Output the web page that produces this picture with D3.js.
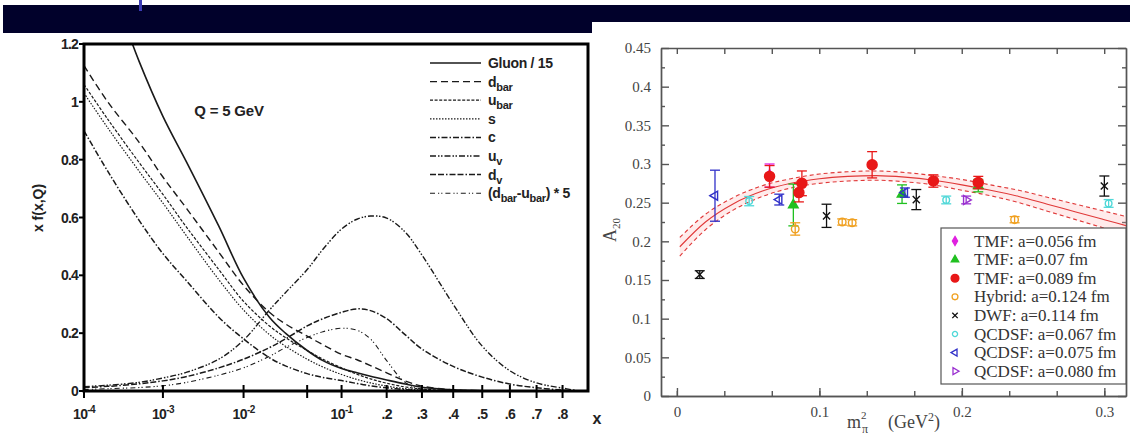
<!DOCTYPE html>
<html>
<head>
<meta charset="utf-8">
<script src="https://cdn.jsdelivr.net/npm/d3@7"></script>
<style>
  body { margin:0; background:#fff; }
  svg { display:block; }
</style>
</head>
<body>
<div id="fig"></div>
<script>
// ---------- left panel data : x f(x,Q) at Q = 5 GeV ----------
var pdfX      = [1e-4, 2e-4, 5e-4, 1e-3, 2e-3, 5e-3, 0.01, 0.02, 0.03, 0.05, 0.07, 0.1, 0.13, 0.16, 0.2, 0.25, 0.3, 0.4, 0.5, 0.6, 0.7, 0.8, 0.85];
var gluon15   = [1.62, 1.43, 1.14, 0.95, 0.79, 0.57, 0.39, 0.255, 0.2, 0.14, 0.105, 0.078, 0.063, 0.051, 0.038, 0.024, 0.013, 0.004, 0.001, 0, 0, 0, 0];
var dbar      = [1.125, 1.0, 0.86, 0.74, 0.63, 0.48, 0.365, 0.272, 0.232, 0.19, 0.16, 0.127, 0.108, 0.088, 0.063, 0.035, 0.017, 0.004, 0.001, 0, 0, 0, 0];
var ubar      = [1.06, 0.94, 0.79, 0.68, 0.565, 0.42, 0.31, 0.225, 0.185, 0.14, 0.11, 0.08, 0.058, 0.042, 0.027, 0.014, 0.007, 0.001, 0, 0, 0, 0, 0];
var sQuark    = [1.03, 0.91, 0.76, 0.65, 0.535, 0.385, 0.28, 0.195, 0.155, 0.11, 0.083, 0.057, 0.04, 0.028, 0.017, 0.008, 0.003, 0, 0, 0, 0, 0, 0];
var cQuark    = [0.9, 0.76, 0.59, 0.475, 0.38, 0.255, 0.18, 0.115, 0.087, 0.06, 0.047, 0.036, 0.026, 0.018, 0.011, 0.005, 0.002, 0, 0, 0, 0, 0, 0];
var uValence  = [0.015, 0.02, 0.03, 0.045, 0.065, 0.11, 0.176, 0.28, 0.34, 0.42, 0.49, 0.56, 0.594, 0.605, 0.598, 0.55, 0.47, 0.3, 0.155, 0.07, 0.028, 0.01, 0.002];
var dValence  = [0.012, 0.016, 0.025, 0.035, 0.05, 0.08, 0.11, 0.15, 0.18, 0.225, 0.25, 0.272, 0.284, 0.278, 0.25, 0.195, 0.145, 0.085, 0.048, 0.024, 0.011, 0.003, 0];
var asym5     = [0.005, 0.008, 0.012, 0.018, 0.03, 0.055, 0.08, 0.12, 0.15, 0.185, 0.205, 0.217, 0.21, 0.18, 0.105, 0.03, 0.006, 0, 0, 0, 0, 0, 0];

var pdfYTicks = [0, 0.2, 0.4, 0.6, 0.8, 1, 1.2];
var pdfYLabels = ["0", "0.2", "0.4", "0.6", "0.8", "1", "1.2"];
var pdfXTicks = [1e-4, 1e-3, 1e-2, 0.05, 0.1, 0.2, 0.3, 0.4, 0.5, 0.6, 0.7, 0.8];
var pdfXLabels = [["10","-4"], ["10","-3"], ["10","-2"], ["",""], ["10","-1"], [".2",""], [".3",""], [".4",""], [".5",""], [".6",""], [".7",""], [".8",""]];

// ---------- right panel data : A20 vs m_pi^2 ----------
var tmf056   = [{x:0.065, y:0.285, e:0.015}];
var tmf07    = [{x:0.0817, y:0.247, e:0.027}, {x:0.158, y:0.261, e:0.012}, {x:0.2115, y:0.272, e:0.008}];
var tmf089   = [{x:0.065, y:0.284, e:0.014}, {x:0.0856, y:0.263, e:0.012}, {x:0.0877, y:0.275, e:0.016},
                {x:0.137, y:0.299, e:0.017}, {x:0.18, y:0.278, e:0.008}, {x:0.2115, y:0.276, e:0.008}];
var hybrid   = [{x:0.083, y:0.216, e:0.008}, {x:0.116, y:0.225, e:0.004}, {x:0.123, y:0.224, e:0.004}, {x:0.237, y:0.228, e:0.004}];
var dwf      = [{x:0.016, y:0.157, e:0.005}, {x:0.105, y:0.233, e:0.015}, {x:0.168, y:0.254, e:0.013}, {x:0.300, y:0.2715, e:0.013}];
var qcdsf067 = [{x:0.0507, y:0.252, e:0.006}, {x:0.189, y:0.2535, e:0.005}, {x:0.303, y:0.249, e:0.005}];
var qcdsf075 = [{x:0.0267, y:0.259, e:0.033}, {x:0.0718, y:0.254, e:0.007}, {x:0.160, y:0.263, e:0.006}];
var qcdsf080 = [{x:0.203, y:0.2535, e:0.005}];

var fitX   = [0.002, 0.02, 0.04, 0.06, 0.08, 0.10, 0.12, 0.14, 0.16, 0.18, 0.20, 0.22, 0.24, 0.26, 0.28, 0.30, 0.32];
var fitMid = [0.193, 0.225, 0.249, 0.265, 0.275, 0.281, 0.284, 0.285, 0.283, 0.279, 0.273, 0.266, 0.258, 0.248, 0.238, 0.228, 0.218];
var fitHi  = [0.205, 0.235, 0.257, 0.272, 0.281, 0.287, 0.290, 0.291, 0.289, 0.285, 0.280, 0.273, 0.266, 0.257, 0.248, 0.239, 0.230];
var fitLo  = [0.181, 0.215, 0.241, 0.258, 0.269, 0.275, 0.278, 0.279, 0.277, 0.273, 0.266, 0.259, 0.250, 0.239, 0.228, 0.217, 0.206];

var a20YTicks = [0, 0.05, 0.1, 0.15, 0.2, 0.25, 0.3, 0.35, 0.4, 0.45];
var a20XTicks = [0, 0.1, 0.2, 0.3];

// ---------------------------------------------------------------
var svg = d3.select("#fig").append("svg").attr("width", 1130).attr("height", 439);
var defs = svg.append("defs");

// dark title banner
svg.append("path").attr("d", "M3,5H1130V22H592V33H3Z").attr("fill", "#01012b");
svg.append("rect").attr("x", 139).attr("y", 0).attr("width", 3).attr("height", 11).attr("fill", "#3b3bb5");

function richText(sel, parts, subSize) {
  // parts: [text, "sub"|"sup"|""]
  var shift = 0;
  parts.forEach(function(p) {
    var want = p[1] == "sub" ? 4 : (p[1] == "sup" ? -6 : 0);
    var t = sel.append("tspan").attr("dy", want - shift).text(p[0]);
    if (p[1]) t.attr("font-size", subSize);
    shift = want;
  });
}

// ================= LEFT PANEL =================
var L = {left: 84, right: 588, top: 44, bottom: 391};
var kLin = 2.72;
function tx(x) { return Math.log10(x) + kLin * x; }   // log-linear x axis
var xL = d3.scaleLinear().domain([tx(1e-4), tx(0.9)]).range([L.left, L.right]);
var yL = d3.scaleLinear().domain([0, 1.2]).range([L.bottom, L.top]);

defs.append("clipPath").attr("id", "clipL").append("rect")
    .attr("x", L.left).attr("y", L.top).attr("width", L.right - L.left).attr("height", L.bottom - L.top);

var gL = svg.append("g").attr("font-family", "'Liberation Sans', Arial, sans-serif").attr("font-weight", "bold");

var pdfSeries = [
  {vals: gluon15,  dash: null,                w: 1.6, label: [["Gluon / 15", ""]]},
  {vals: dbar,     dash: "7,4",               w: 1.4, label: [["d", ""], ["bar", "sub"]]},
  {vals: ubar,     dash: "3,1.6",             w: 1.2, label: [["u", ""], ["bar", "sub"]]},
  {vals: sQuark,   dash: "1.5,1.5",           w: 1.2, label: [["s", ""]]},
  {vals: cQuark,   dash: "6,2,1.5,2",         w: 1.5, label: [["c", ""]]},
  {vals: uValence, dash: "6,2,1.5,1.5,1.5,2", w: 1.4, label: [["u", ""], ["v", "sub"]]},
  {vals: dValence, dash: "6,2,6,2,1.5,2",     w: 1.5, label: [["d", ""], ["v", "sub"]]},
  {vals: asym5,    dash: "5,3,1.2,2,1.2,3",   w: 1.1, label: [["(d", ""], ["bar", "sub"], ["-u", ""], ["bar", "sub"], [") * 5", ""]]}
];

var pdfLine = d3.line()
    .x(function(d) { return xL(tx(d[0])); })
    .y(function(d) { return yL(d[1]); })
    .curve(d3.curveCatmullRom.alpha(0.5));

pdfSeries.forEach(function(s) {
  gL.append("path")
    .datum(pdfX.map(function(x, i) { return [x, s.vals[i]]; }))
    .attr("clip-path", "url(#clipL)")
    .attr("fill", "none").attr("stroke", "#1a1a1a")
    .attr("stroke-width", s.w)
    .attr("stroke-dasharray", s.dash)
    .attr("d", pdfLine);
});

// frame
gL.append("rect").attr("x", L.left).attr("y", L.top)
  .attr("width", L.right - L.left).attr("height", L.bottom - L.top)
  .attr("fill", "none").attr("stroke", "#000").attr("stroke-width", 3);

// y ticks
pdfYTicks.forEach(function(v, i) {
  gL.append("line").attr("x1", L.left - 5).attr("x2", L.left).attr("y1", yL(v)).attr("y2", yL(v))
    .attr("stroke", "#000").attr("stroke-width", 2);
  gL.append("text").attr("x", L.left - 6).attr("y", yL(v) + 5).attr("text-anchor", "end")
    .attr("font-size", 14).attr("letter-spacing", -0.8).attr("fill", "#222").text(pdfYLabels[i]);
});
// x ticks
pdfXTicks.forEach(function(v, i) {
  var px = xL(tx(v));
  gL.append("line").attr("x1", px).attr("x2", px).attr("y1", L.bottom - 6).attr("y2", L.bottom + 7)
    .attr("stroke", "#000").attr("stroke-width", 2);
  var lab = pdfXLabels[i];
  if (!lab[0]) return;
  var t = gL.append("text").attr("x", px).attr("y", L.bottom + 28).attr("text-anchor", "middle")
    .attr("font-size", 14).attr("letter-spacing", -0.6).attr("fill", "#222");
  richText(t, lab[1] ? [[lab[0], ""], [lab[1], "sup"]] : [[lab[0], ""]], 10);
});
gL.append("text").attr("x", 597).attr("y", 424).attr("text-anchor", "middle")
  .attr("font-size", 16).attr("fill", "#222").text("x");

gL.append("text").attr("transform", "translate(43,208) rotate(-90)").attr("text-anchor", "middle")
  .attr("font-size", 14).attr("fill", "#222").text("x f(x,Q)");

gL.append("text").attr("x", 229).attr("y", 116).attr("text-anchor", "middle")
  .attr("font-size", 15).attr("letter-spacing", -0.2).attr("fill", "#222").text("Q = 5 GeV");

// legend
pdfSeries.forEach(function(s, i) {
  var y = 63 + i * 18.6;
  gL.append("line").attr("x1", 430).attr("x2", 481).attr("y1", y).attr("y2", y)
    .attr("stroke", "#1a1a1a").attr("stroke-width", s.w).attr("stroke-dasharray", s.dash);
  var t = gL.append("text").attr("x", 488).attr("y", y + 5)
    .attr("font-size", 14).attr("letter-spacing", -0.3).attr("fill", "#222");
  richText(t, s.label, 11);
});

// ================= RIGHT PANEL =================
var R = {left: 661, right: 1126, top: 48, bottom: 396};
var xR = d3.scaleLinear().domain([-0.0112, 0.3152]).range([R.left, R.right]);
var yR = d3.scaleLinear().domain([0, 0.45]).range([R.bottom, R.top]);
var axisCol = "#555";

defs.append("clipPath").attr("id", "clipR").append("rect")
    .attr("x", R.left).attr("y", R.top).attr("width", R.right - R.left).attr("height", R.bottom - R.top);

var gR = svg.append("g").attr("font-family", "'Liberation Serif', 'Times New Roman', serif");

function styleAxis(g) {
  g.selectAll("path,line").attr("stroke", axisCol).attr("stroke-width", 1.4);
  g.selectAll("text").attr("fill", "#444").attr("font-size", 15).attr("font-family", "'Liberation Serif', serif");
}
var minorX = d3.range(-0.0001, 0.315, 0.1 / 3).filter(function(v) { return v >= -0.0112; });
var minorY = d3.range(0.025, 0.45, 0.05);

gR.append("g").attr("transform", "translate(0," + R.bottom + ")")
  .call(d3.axisBottom(xR).tickValues(a20XTicks).tickSizeInner(-8).tickSizeOuter(0).tickPadding(10)
        .tickFormat(function(d) { return d === 0 ? "0" : d3.format(".1f")(d); }))
  .call(styleAxis);
gR.append("g").attr("transform", "translate(0," + R.bottom + ")")
  .call(d3.axisBottom(xR).tickValues(minorX).tickSizeInner(-5).tickSizeOuter(0).tickFormat(""))
  .call(styleAxis);
gR.append("g").attr("transform", "translate(0," + R.top + ")")
  .call(d3.axisTop(xR).tickValues(minorX).tickSizeInner(-6).tickSizeOuter(0).tickFormat(""))
  .call(styleAxis);
gR.append("g").attr("transform", "translate(" + R.left + ",0)")
  .call(d3.axisLeft(yR).tickValues(a20YTicks).tickSizeInner(-8).tickSizeOuter(0).tickPadding(10)
        .tickFormat(function(d) { return d === 0 ? "0" : String(+d.toFixed(2)); }))
  .call(styleAxis);
gR.append("g").attr("transform", "translate(" + R.left + ",0)")
  .call(d3.axisLeft(yR).tickValues(minorY).tickSizeInner(-4).tickSizeOuter(0).tickFormat(""))
  .call(styleAxis);
gR.append("g").attr("transform", "translate(" + R.right + ",0)")
  .call(d3.axisRight(yR).tickValues(a20YTicks).tickSizeInner(-8).tickSizeOuter(0).tickFormat(""))
  .call(styleAxis);
gR.append("g").attr("transform", "translate(" + R.right + ",0)")
  .call(d3.axisRight(yR).tickValues(minorY).tickSizeInner(-4).tickSizeOuter(0).tickFormat(""))
  .call(styleAxis);

// fit band
var fitPts = fitX.map(function(x, i) { return {x: x, m: fitMid[i], h: fitHi[i], l: fitLo[i]}; });
var gFit = gR.append("g").attr("clip-path", "url(#clipR)");
gFit.append("path").datum(fitPts).attr("fill", "#ffb0b0").attr("fill-opacity", 0.25)
  .attr("d", d3.area().x(function(d) { return xR(d.x); }).y0(function(d) { return yR(d.l); })
                      .y1(function(d) { return yR(d.h); }).curve(d3.curveMonotoneX));
["h", "l"].forEach(function(k) {
  gFit.append("path").datum(fitPts).attr("fill", "none").attr("stroke", "#e03838").attr("stroke-width", 1.1)
    .attr("stroke-dasharray", "4,3")
    .attr("d", d3.line().x(function(d) { return xR(d.x); }).y(function(d) { return yR(d[k]); }).curve(d3.curveMonotoneX));
});
gFit.append("path").datum(fitPts).attr("fill", "none").attr("stroke", "#e03838").attr("stroke-width", 1.1)
  .attr("d", d3.line().x(function(d) { return xR(d.x); }).y(function(d) { return yR(d.m); }).curve(d3.curveMonotoneX));

// data sets
var a20Sets = [
  {data: tmf056,   color: "#e020e0", sym: d3.symbolDiamond,  size: 40, fill: true,  rot: 0,   label: "TMF: a=0.056 fm"},
  {data: tmf07,    color: "#20c020", sym: d3.symbolTriangle, size: 40, fill: true,  rot: 0,   label: "TMF: a=0.07 fm"},
  {data: tmf089,   color: "#e81818", sym: d3.symbolCircle,   size: 80, fill: true,  rot: 0,   label: "TMF: a=0.089 fm"},
  {data: hybrid,   color: "#f0a020", sym: d3.symbolCircle,   size: 45, fill: false, rot: 0,   label: "Hybrid: a=0.124 fm"},
  {data: dwf,      color: "#111111", sym: d3.symbolTimes,    size: 35, fill: false, rot: 0,   label: "DWF: a=0.114 fm"},
  {data: qcdsf067, color: "#50d8d8", sym: d3.symbolCircle,   size: 35, fill: false, rot: 0,   label: "QCDSF: a=0.067 fm"},
  {data: qcdsf075, color: "#3030c8", sym: d3.symbolTriangle, size: 35, fill: false, rot: -90, label: "QCDSF: a=0.075 fm"},
  {data: qcdsf080, color: "#9a30d0", sym: d3.symbolTriangle, size: 35, fill: false, rot: 90,  label: "QCDSF: a=0.080 fm"}
];

a20Sets.forEach(function(s) {
  var g = gR.append("g");
  var pts = g.selectAll("g.pt").data(s.data).enter().append("g").attr("class", "pt");
  pts.append("line").attr("x1", function(d) { return xR(d.x); }).attr("x2", function(d) { return xR(d.x); })
    .attr("y1", function(d) { return yR(d.y - d.e); }).attr("y2", function(d) { return yR(d.y + d.e); })
    .attr("stroke", s.color).attr("stroke-width", 1.3);
  [1, -1].forEach(function(sg) {
    pts.append("line").attr("x1", function(d) { return xR(d.x) - 5; }).attr("x2", function(d) { return xR(d.x) + 5; })
      .attr("y1", function(d) { return yR(d.y + sg * d.e); }).attr("y2", function(d) { return yR(d.y + sg * d.e); })
      .attr("stroke", s.color).attr("stroke-width", 1.3);
  });
  pts.append("path")
    .attr("transform", function(d) { return "translate(" + xR(d.x) + "," + yR(d.y) + ") rotate(" + s.rot + ")"; })
    .attr("d", d3.symbol().type(s.sym).size(s.size))
    .attr("fill", s.fill ? s.color : "none").attr("stroke", s.color).attr("stroke-width", 1.4);
});

// legend
var lg = gR.append("g");
lg.append("rect").attr("x", 941).attr("y", 228).attr("width", 185).attr("height", 156)
  .attr("fill", "#fff").attr("stroke", "#555").attr("stroke-width", 1.2);
a20Sets.forEach(function(s, i) {
  var y = 241 + i * 18.6;
  lg.append("path").attr("transform", "translate(955," + y + ") rotate(" + s.rot + ")")
    .attr("d", d3.symbol().type(s.sym).size(s.size * 0.6))
    .attr("fill", s.fill ? s.color : "none").attr("stroke", s.color).attr("stroke-width", 1.3);
  lg.append("text").attr("x", 974).attr("y", y + 5.5).attr("font-size", 17).attr("fill", "#333").text(s.label);
});

// axis titles
var yt = gR.append("text").attr("transform", "translate(616,230) rotate(-90)").attr("text-anchor", "middle")
  .attr("font-size", 18).attr("fill", "#444");
richText(yt, [["A", ""], ["20", "sub"]], 11);

var xt = gR.append("text").attr("x", 847).attr("y", 428).attr("font-size", 18).attr("fill", "#444");
xt.append("tspan").text("m");
xt.append("tspan").attr("dx", 1).attr("dy", 5).attr("font-size", 12).text("\u03c0");
xt.append("tspan").attr("dx", -7).attr("dy", -14).attr("font-size", 11).text("2");
xt.append("tspan").attr("x", 888).attr("dy", 9).text("(GeV");
xt.append("tspan").attr("dy", -7).attr("font-size", 12).text("2");
xt.append("tspan").attr("dy", 7).text(")");
</script>
</body>
</html>
